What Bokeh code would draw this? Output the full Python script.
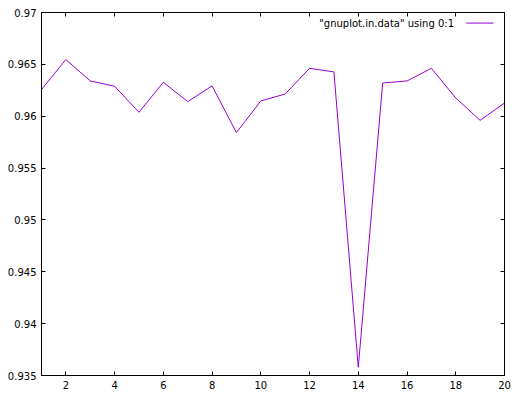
from bokeh.plotting import figure
from bokeh.models import (LinearAxis, FixedTicker, CustomJSTickFormatter, Range1d,
                          Label, Arrow, CustomLabelingPolicy)
from bokeh.embed import file_html
from bokeh.resources import INLINE

# data
x_vals = list(range(1, 21))
y_vals = [0.96257, 0.96546, 0.96340, 0.96289, 0.96038, 0.96327, 0.96141, 0.96292,
          0.95842, 0.96147, 0.96214, 0.96462, 0.96427, 0.93579, 0.96320, 0.96340,
          0.96462, 0.96176, 0.95960, 0.96127]
x_ticks = [2, 4, 6, 8, 10, 12, 14, 16, 18, 20]
y_ticks = [0.935, 0.94, 0.945, 0.95, 0.955, 0.96, 0.965, 0.97]
legend_label = '"gnuplot.in.data" using 0:1'

FONT = "DejaVu Sans"
COLOR = "#9400d3"

p = figure(width=514, height=393, output_backend="svg", toolbar_location=None,
           x_range=Range1d(1, 20), y_range=Range1d(0.935, 0.97),
           min_border_left=41, min_border_right=10, min_border_top=12,
           min_border_bottom=18, x_axis_location=None, y_axis_location=None)
p.xgrid.visible = False
p.ygrid.visible = False
p.outline_line_color = "black"
p.outline_line_width = 1
p.background_fill_color = "white"
p.border_fill_color = "white"

fmt = CustomJSTickFormatter(code="return String(parseFloat(tick.toFixed(3)));")
no_labels = CustomLabelingPolicy(code="""
const idx = Array.from(indices);
for (const i of idx) indices.unset(i);
return indices;
""")

def style(ax, labels=True):
    ax.axis_line_color = "black"
    ax.major_tick_line_color = "black"
    ax.major_tick_in = 4
    ax.major_tick_out = 0
    ax.minor_tick_line_color = None
    ax.major_label_text_font = FONT
    ax.major_label_text_color = "black"
    if labels:
        ax.major_label_text_font_size = "10px"
        ax.major_label_standoff = 5
    else:
        ax.major_label_text_font_size = "0px"
        ax.major_label_standoff = 0
        ax.major_label_policy = no_labels

xb = LinearAxis(ticker=FixedTicker(ticks=x_ticks))
style(xb)
p.add_layout(xb, "below")
xt = LinearAxis(ticker=FixedTicker(ticks=x_ticks))
style(xt, labels=False)
p.add_layout(xt, "above")
yl = LinearAxis(ticker=FixedTicker(ticks=y_ticks), formatter=fmt)
style(yl)
p.add_layout(yl, "left")
yr = LinearAxis(ticker=FixedTicker(ticks=y_ticks), formatter=fmt)
style(yr, labels=False)
p.add_layout(yr, "right")

p.line(x_vals, y_vals, line_color=COLOR, line_width=1)

# gnuplot-style key: text, then line sample
p.add_layout(Label(x=17.93, y=0.96894, text=legend_label, text_align="right",
                   text_baseline="middle", text_font=FONT, text_font_size="10px",
                   text_color="black"))
p.add_layout(Arrow(x_start=18.43, y_start=0.96898, x_end=19.55, y_end=0.96898,
                   start=None, end=None, line_color=COLOR, line_width=1))

open("out.html", "w").write(file_html(p, INLINE))
